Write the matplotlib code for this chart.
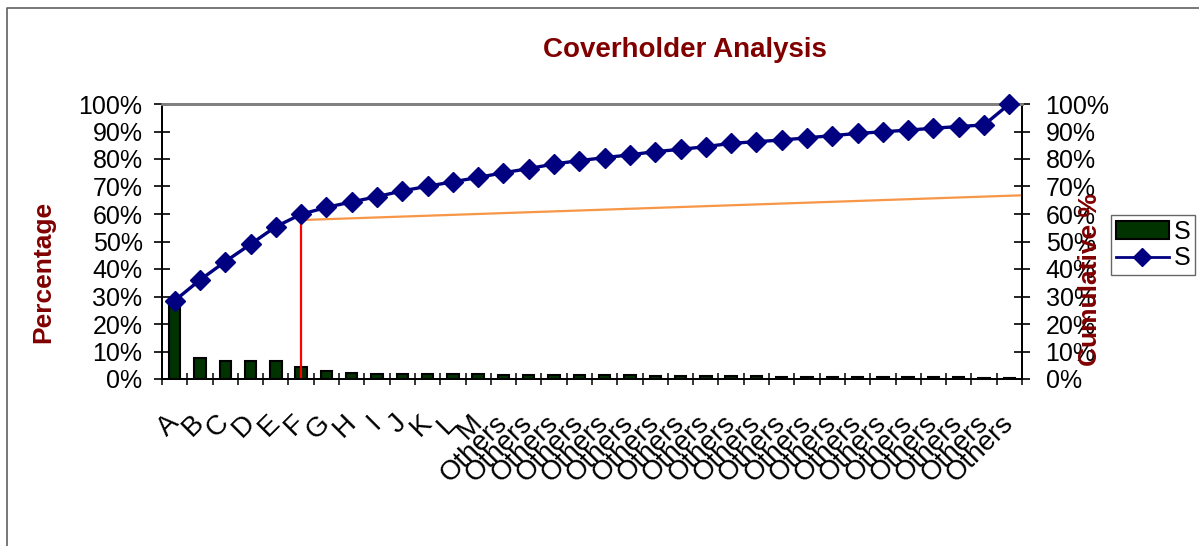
import matplotlib
matplotlib.use("Agg")
import matplotlib.pyplot as plt
from matplotlib.lines import Line2D
from matplotlib.patches import Patch
import numpy as np

plt.rcParams['font.family'] = ['Liberation Sans', 'DejaVu Sans']

# coverholders, share of total and cumulative share
holders = list("ABCDEFGHIJKLM") + ["Others"] * 21
share = [28.5, 7.6, 6.6, 6.6, 6.5, 4.4, 2.8, 2.3, 2.0, 2.0, 1.9, 1.8, 1.7,
         1.6, 1.5, 1.5, 1.4, 1.3, 1.3, 1.2, 1.1, 1.1, 1.0, 1.0, 0.9, 0.9,
         0.8, 0.8, 0.7, 0.7, 0.6, 0.6, 0.5, 0.5]
cumulative = [28.5, 36.0, 42.7, 49.0, 55.4, 59.9, 62.4, 64.4, 66.3, 68.4,
              70.1, 71.7, 73.3, 75.0, 76.5, 78.2, 79.4, 80.5, 81.5, 82.7,
              83.5, 84.5, 85.7, 86.3, 86.9, 87.7, 88.5, 89.3, 89.9, 90.5,
              91.2, 91.8, 92.4, 100.0]

# marker lines: drop at F, and the reference slope from F to the right edge
cut_index = 5
cut_level = 59.6
ref_start, ref_end = 57.8, 66.8

dark_red = '#800000'
W, H = 1199, 546
fig = plt.figure(figsize=(W / 100, H / 100), dpi=100)
ax = fig.add_axes([162 / W, 1 - 379 / H, 860 / W, 275 / H])
ax2 = ax.twinx()

x = np.arange(len(holders))
ax.bar(x, np.array(share) / 100, width=0.45, color='#003300',
       edgecolor='black', linewidth=1.5, zorder=2)
ax2.plot(x, np.array(cumulative) / 100, color='#000080', lw=2.4,
         marker='D', ms=10, zorder=3, clip_on=False)

ax.plot([cut_index, cut_index], [0, cut_level / 100], color='red', lw=1.6, zorder=4)
ax.plot([cut_index, len(holders) - 0.5], [ref_start / 100, ref_end / 100],
        color='#f79646', lw=1.6, zorder=4)

for a in (ax, ax2):
    a.set_ylim(0, 1)
    a.set_xlim(-0.5, len(holders) - 0.5)
    a.set_yticks(np.arange(0, 1.01, 0.1))
    a.set_yticklabels([f"{int(round(v * 100))}%" for v in np.arange(0, 1.01, 0.1)],
                      fontsize=18)
    for s in a.spines.values():
        s.set_linewidth(1.3)
    a.spines['top'].set_color('#808080')
    a.spines['top'].set_linewidth(2)

ax.tick_params(axis='y', direction='inout', length=12, width=1.2, pad=8)
ax2.tick_params(axis='y', direction='inout', length=12, width=1.2, pad=11)

ax.set_xticks(x)
ax.set_xticklabels(holders, rotation=45, ha='right', va='center',
                   rotation_mode='anchor', fontsize=20)
ax.set_xticks(np.arange(-0.5, len(holders), 1), minor=True)
ax.tick_params(axis='x', which='major', length=0, pad=29)
ax.tick_params(axis='x', which='minor', direction='inout', length=9, width=1.1)

fig.text(685 / W, 1 - 50 / H, 'Coverholder Analysis', ha='center', va='center',
         fontsize=20, fontweight='bold', color=dark_red)
fig.text(43 / W, 1 - 272 / H, 'Percentage', rotation=90, ha='center',
         va='center', fontsize=19, fontweight='bold', color=dark_red)
fig.text(1090 / W, 1 - 280 / H, 'Cumulative %', rotation=90, ha='center',
         va='center', fontsize=19, fontweight='bold', color=dark_red)

handles = [Patch(facecolor='#003300', edgecolor='black', linewidth=1.5),
           Line2D([], [], color='#000080', lw=2, marker='D', ms=9)]
leg = fig.legend(handles, ['S', 'S'], loc='upper left',
                 bbox_to_anchor=(1111 / W, 1 - 215 / H), fontsize=18,
                 frameon=True, fancybox=False, borderpad=0.2,
                 labelspacing=0.1, handletextpad=0.2, borderaxespad=0,
                 handlelength=2.1)
leg.get_frame().set_edgecolor('#404040')
leg.get_frame().set_linewidth(1)

# chart area border
fig.add_artist(Line2D([7 / W, 7 / W, 1], [0, 1 - 8 / H, 1 - 8 / H],
                      color='#606060', lw=1.2, transform=fig.transFigure))

fig.savefig('out.png', dpi=100)
